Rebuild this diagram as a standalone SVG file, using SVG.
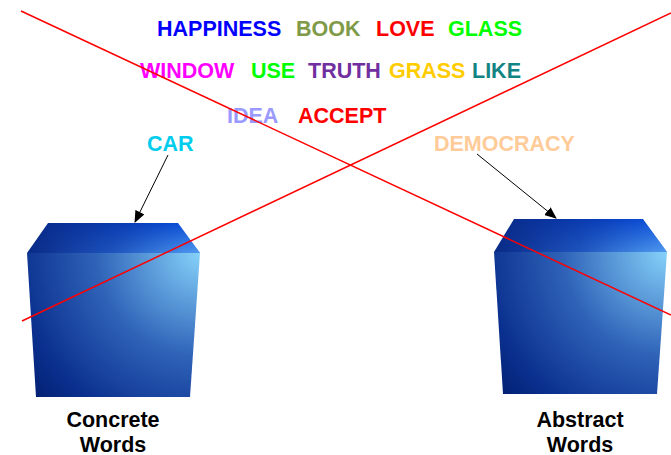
<svg xmlns="http://www.w3.org/2000/svg" width="671" height="455" viewBox="0 0 671 455">
<style>
text{font-family:"Liberation Sans",Arial,sans-serif;font-weight:bold;font-size:21.5px}
.lbl{fill:#000;text-anchor:middle}
.conn{stroke:#000;stroke-width:1;fill:none}
.cross{stroke:#FF0000;stroke-width:1.5;fill:none}
</style>
<defs>
<radialGradient id="front" gradientUnits="userSpaceOnUse" cx="200" cy="253" r="230">
<stop offset="0" stop-color="#86D2FA"/>
<stop offset="0.45" stop-color="#2F63B8"/>
<stop offset="0.8" stop-color="#0A2F8E"/>
<stop offset="1" stop-color="#001C68"/>
</radialGradient>
<radialGradient id="front2" gradientUnits="userSpaceOnUse" cx="667" cy="252" r="230">
<stop offset="0" stop-color="#86D2FA"/>
<stop offset="0.45" stop-color="#2F63B8"/>
<stop offset="0.8" stop-color="#0A2F8E"/>
<stop offset="1" stop-color="#001C68"/>
</radialGradient>
<linearGradient id="top" x1="0" y1="0" x2="1" y2="0">
<stop offset="0" stop-color="#0A2A86"/>
<stop offset="0.6" stop-color="#0A3EB8"/>
<stop offset="1" stop-color="#0C52E0"/>
</linearGradient>
<linearGradient id="topshade" x1="0" y1="0" x2="0" y2="1">
<stop offset="0" stop-color="#7FCBF7" stop-opacity="0"/>
<stop offset="1" stop-color="#7FCBF7" stop-opacity="0.6"/>
</linearGradient>
<linearGradient id="topfade" x1="0" y1="0" x2="1" y2="0">
<stop offset="0" stop-color="#fff" stop-opacity="0"/>
<stop offset="0.5" stop-color="#fff" stop-opacity="0.3"/>
<stop offset="1" stop-color="#fff" stop-opacity="1"/>
</linearGradient>
<mask id="m1"><rect x="27" y="223" width="173" height="30" fill="url(#topfade)"/></mask>
<mask id="m2"><rect x="494" y="219" width="173" height="33" fill="url(#topfade)"/></mask>
<marker id="arr" markerWidth="12" markerHeight="10" refX="11" refY="5" orient="auto" markerUnits="userSpaceOnUse">
<path d="M0,0 L12,5 L0,10 Z" fill="#000"/>
</marker>
</defs>

<g id="box-concrete">
<polygon points="27,253 200,253 190,397 36,397" fill="url(#front)"/>
<polygon points="48,223 178,223 200,253 27,253" fill="url(#top)"/>
<polygon points="48,223 178,223 200,253 27,253" fill="url(#topshade)" mask="url(#m1)"/>
<text class="lbl" x="113" y="427">Concrete</text>
<text class="lbl" x="113" y="452">Words</text>
</g>

<g id="box-abstract">
<polygon points="494,252 667,252 657,394 503,394" fill="url(#front2)"/>
<polygon points="514,219 643,219 667,252 494,252" fill="url(#top)"/>
<polygon points="514,219 643,219 667,252 494,252" fill="url(#topshade)" mask="url(#m2)"/>
<text class="lbl" x="580" y="427">Abstract</text>
<text class="lbl" x="580" y="452">Words</text>
</g>

<g id="words">
<text x="157" y="36" fill="#0000FF">HAPPINESS</text>
<text x="296" y="36" fill="#7F9A48">BOOK</text>
<text x="376" y="36" fill="#FF0000">LOVE</text>
<text x="448" y="36" fill="#00FF00">GLASS</text>
<text x="140" y="78" fill="#FF00FF">WINDOW</text>
<text x="251" y="78" fill="#00FF00">USE</text>
<text x="308" y="78" fill="#7030A0">TRUTH</text>
<text x="389" y="78" fill="#FFCC00">GRASS</text>
<text x="472" y="78" fill="#138484">LIKE</text>
<text x="227" y="123" fill="#9999FF">IDEA</text>
<text x="298" y="123" fill="#FF0000">ACCEPT</text>
<text id="car" x="147" y="151" fill="#00CCEE">CAR</text>
<text id="democracy" x="434" y="151" fill="#FFCC99">DEMOCRACY</text>
</g>

<g id="connectors">
<line class="conn" x1="168" y1="155" x2="135" y2="222" marker-end="url(#arr)"/>
<line class="conn" x1="477" y1="154" x2="556" y2="218" marker-end="url(#arr)"/>
</g>

<g id="cross">
<line class="cross" x1="21" y1="11" x2="671" y2="315"/>
<line class="cross" x1="22" y1="321" x2="671" y2="13"/>
</g>
</svg>
